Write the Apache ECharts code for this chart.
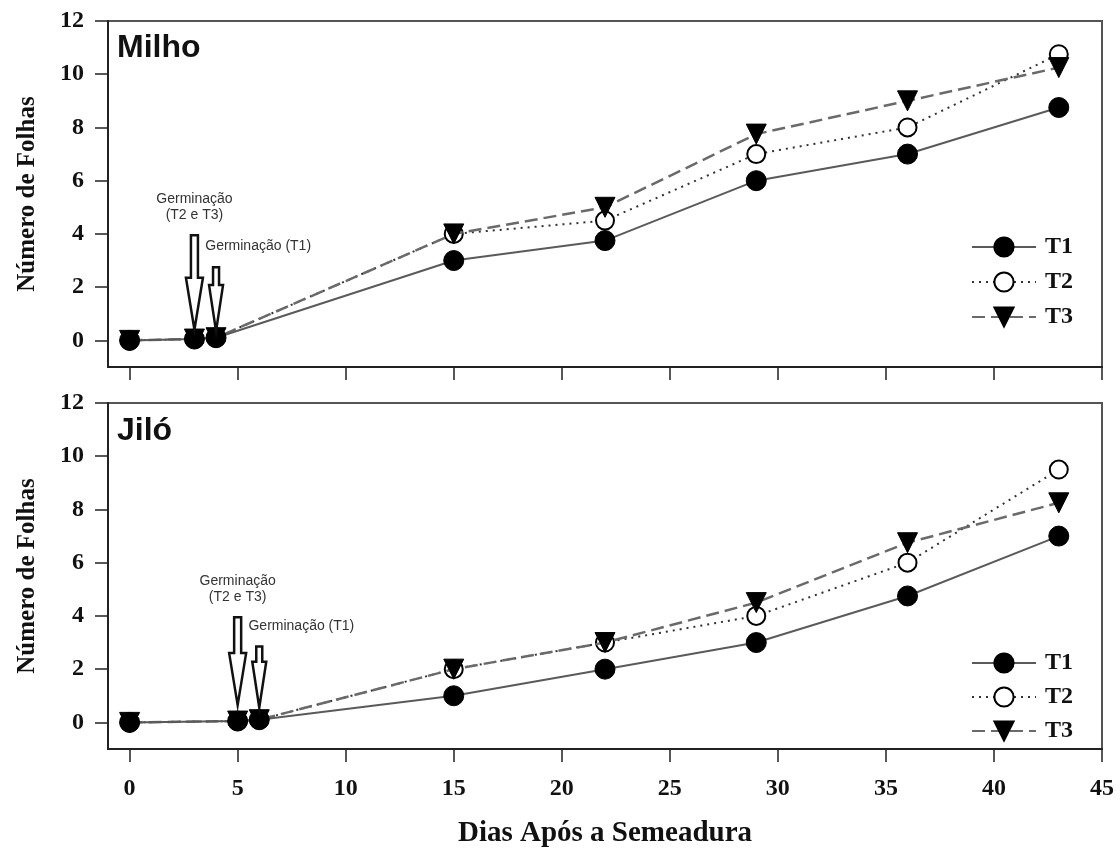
<!DOCTYPE html>
<html><head><meta charset="utf-8">
<script src="https://cdn.jsdelivr.net/npm/echarts@6/dist/echarts.min.js"></script>
<style>html,body{margin:0;padding:0;background:#fff}#c{width:1120px;height:855px}</style>
</head><body><div id="c"></div>
<script>
// ---- data ----
const xMilho = [0, 3, 4, 15, 22, 29, 36, 43];
const milhoT1 = [0, 0.05, 0.1, 3, 3.75, 6, 7, 8.75];
const milhoT2 = [0, 0.05, 0.1, 4, 4.5, 7, 8, 10.75];
const milhoT3 = [0, 0.05, 0.1, 4, 5, 7.75, 9, 10.25];
const xJilo = [0, 5, 6, 15, 22, 29, 36, 43];
const jiloT1 = [0, 0.05, 0.1, 1, 2, 3, 4.75, 7];
const jiloT2 = [0, 0.05, 0.1, 2, 3, 4, 6, 9.5];
const jiloT3 = [0, 0.05, 0.1, 2, 3, 4.5, 6.75, 8.25];
const xTicks = [0, 5, 10, 15, 20, 25, 30, 35, 40, 45];
const yTicks = [0, 2, 4, 6, 8, 10, 12];
const seriesNames = ['T1', 'T2', 'T3'];
const panelTitles = ['Milho', 'Jiló'];
// annotations: [x, yTail, yTip] in data units
const arrowsMilho = [[3, 3.95, 0.4, 'big'], [4, 2.75, 0.35, 'small']];
const arrowsJilo = [[5, 3.95, 0.65, 'big'], [6, 2.85, 0.55, 'small']];
const labelsMilho = [[3, 4.4, 'Germinação\n(T2 e T3)', 'center'], [3.5, 3.25, 'Germinação (T1)', 'left']];
const labelsJilo = [[5, 4.4, 'Germinação\n(T2 e T3)', 'center'], [5.5, 3.3, 'Germinação (T1)', 'left']];

const chart = echarts.init(document.getElementById('c'));
const serif = 'Liberation Serif';
const sans = 'Liberation Sans';

function pairs(xs, ys) { return xs.map((x, i) => [x, ys[i]]); }

const styles = [
  { symbol: 'circle', symbolSize: 20, symbolRotate: 0, z: 6, itemStyle: { color: '#000', borderColor: '#000', borderWidth: 1 }, lineStyle: { color: '#5a5a5a', width: 2, type: 'solid' } },
  { symbol: 'circle', symbolSize: 18, symbolRotate: 0, z: 3, itemStyle: { color: '#fff', borderColor: '#000', borderWidth: 2 }, lineStyle: { color: '#333', width: 2, type: [2, 5] } },
  { symbol: 'triangle', symbolSize: 20, symbolRotate: 180, z: 4, itemStyle: { color: '#000', borderColor: '#000', borderWidth: 1 }, lineStyle: { color: '#6a6a6a', width: 2.5, type: [13, 6] } }
];

const grids = [
  { left: 108, top: 21, width: 994, height: 346, show: true, borderColor: '#555', borderWidth: 2, backgroundColor: 'transparent', outerBoundsMode: 'none', containLabel: false },
  { left: 108, top: 403, width: 994, height: 346, show: true, borderColor: '#555', borderWidth: 2, backgroundColor: 'transparent', outerBoundsMode: 'none', containLabel: false }
];

function xAxis(i) {
  return {
    type: 'value', gridIndex: i, min: -1, max: 45,
    name: i === 1 ? 'Dias Após a Semeadura' : '', nameLocation: 'middle', nameGap: 70,
    nameTextStyle: { fontFamily: serif, fontWeight: 'bold', fontSize: 29, color: '#111' },
    axisLine: { show: true, onZero: false, lineStyle: { color: '#222', width: 2 } },
    axisTick: { show: true, inside: false, length: 13, customValues: xTicks, lineStyle: { color: '#222', width: 1.5 } },
    axisLabel: { show: i === 1, customValues: xTicks, margin: 28, fontFamily: serif, fontWeight: 'bold', fontSize: 24, color: '#111' },
    splitLine: { show: false }
  };
}
function yAxis(i) {
  return {
    type: 'value', gridIndex: i, min: -1, max: 12,
    name: 'Número de Folhas', nameLocation: 'middle', nameGap: 68, nameRotate: 90,
    nameTextStyle: { fontFamily: serif, fontWeight: 'bold', fontSize: 25, color: '#111' },
    axisLine: { show: true, onZero: false, lineStyle: { color: '#222', width: 2 } },
    axisTick: { show: true, inside: false, length: 13, customValues: yTicks, lineStyle: { color: '#222', width: 1.5 } },
    axisLabel: { show: true, customValues: yTicks, margin: 24, fontFamily: serif, fontWeight: 'bold', fontSize: 24, color: '#111' },
    splitLine: { show: false }
  };
}

const datasets = [[milhoT1, milhoT2, milhoT3], [jiloT1, jiloT2, jiloT3]];
const xsets = [xMilho, xJilo];
const series = [];
for (let g = 0; g < 2; g++) {
  for (let s = 0; s < 3; s++) {
    const st = styles[s];
    series.push({
      type: 'line', name: seriesNames[s], xAxisIndex: g, yAxisIndex: g,
      data: pairs(xsets[g], datasets[g][s]),
      symbol: st.symbol, symbolSize: st.symbolSize, symbolRotate: st.symbolRotate,
      itemStyle: st.itemStyle, lineStyle: st.lineStyle,
      showAllSymbol: true, z: st.z, emphasis: { disabled: true }, silent: true
    });
  }
}

function legend(top, gap) {
  return {
    data: seriesNames, orient: 'vertical', left: 966, top: top, itemWidth: 64, itemHeight: 24, itemGap: gap,
    textStyle: { fontFamily: serif, fontWeight: 'bold', fontSize: 24, color: '#111', padding: [0, 0, 0, 4] },
    selectedMode: false
  };
}

chart.setOption({
  animation: false,
  backgroundColor: '#fff',
  grid: grids,
  xAxis: [xAxis(0), xAxis(1)],
  yAxis: [yAxis(0), yAxis(1)],
  legend: [legend(230, 11), legend(646, 10)],
  title: [
    { text: panelTitles[0], left: 112, top: 27, textStyle: { fontFamily: sans, fontWeight: 'bold', fontSize: 32, color: '#111' } },
    { text: panelTitles[1], left: 112, top: 410, textStyle: { fontFamily: sans, fontWeight: 'bold', fontSize: 32, color: '#111' } }
  ],
  series: series
});

// annotations via the chart's own coordinate conversion
const graphics = [];
function addArrow(g, a) {
  const tail = chart.convertToPixel({ gridIndex: g }, [a[0], a[1]]);
  const tip = chart.convertToPixel({ gridIndex: g }, [a[0], a[2]]);
  const x = tail[0];
  const sw = a[3] === 'big' ? 3.5 : 3;
  const hw = a[3] === 'big' ? 8.5 : 7;
  const hl = a[3] === 'big' ? 52 : 46;
  const yb = tip[1] - hl;
  graphics.push({
    type: 'polygon', silent: true, z: 10,
    shape: { points: [[x - sw, tail[1]], [x + sw, tail[1]], [x + sw, yb], [x + hw, yb], [x, tip[1]], [x - hw, yb], [x - sw, yb]] },
    style: { fill: '#fff', stroke: '#111', lineWidth: 2.5 }
  });
}
function addLabel(g, l) {
  const p = chart.convertToPixel({ gridIndex: g }, [l[0], l[1]]);
  graphics.push({
    type: 'text', silent: true, z: 10, x: p[0], y: p[1],
    style: { text: l[2], fontFamily: sans, fontSize: 14, fill: '#333', align: l[3], verticalAlign: 'bottom', lineHeight: 16 }
  });
}
arrowsMilho.forEach(a => addArrow(0, a));
arrowsJilo.forEach(a => addArrow(1, a));
labelsMilho.forEach(l => addLabel(0, l));
labelsJilo.forEach(l => addLabel(1, l));
chart.setOption({ graphic: graphics });
</script></body></html>
